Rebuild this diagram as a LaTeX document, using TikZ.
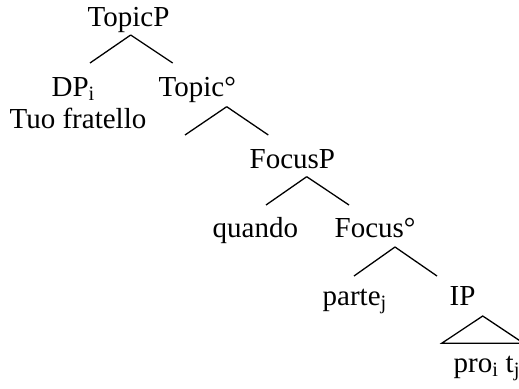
\documentclass[tikz,border=0pt]{standalone}
\usepackage{fontspec}
\setmainfont{Liberation Serif}

\begin{document}
\begin{tikzpicture}[x=1pt, y=-1pt, line width=1.3pt,
        every node/.style={inner sep=0pt, anchor=base west, font=\fontsize{29}{34}\selectfont}]
            \useasboundingbox (0,0) rectangle (519,388);

            \node[] (1) at (87,27) {TopicP};
            \node[] (2) at (51,96) {DP\textsubscript{i}};
            \node[] (3) at (9,128) {Tuo fratello};
            \node[] (4) at (158,96) {Topic°};
            \node[] (5) at (249,168) {FocusP};
            \node[] (6) at (212,237) {quando};
            \node[] (7) at (334,237) {Focus°};
            \node[] (8) at (322,305) {parte\textsubscript{j}};
            \node[] (9) at (449,305) {IP};
            \node[] (10) at (453,372) {pro\textsubscript{i} t\textsubscript{j}};

            \coordinate (w) at (130.7,35);
            \coordinate (w1) at (90,63);
            \coordinate (w2) at (172.7,63);

            \coordinate (x) at (226.7,106.7);
            \coordinate (x1) at (185,135);
            \coordinate (x2) at (268.3,135);

            \coordinate (y) at (306.7,176.7);
            \coordinate (y1) at (266,205);
            \coordinate (y2) at (349,205);

            \coordinate (z) at (395,247);
            \coordinate (z1) at (354,276);
            \coordinate (z2) at (437,276);

            \coordinate (t) at (482.7,316);
            \coordinate (t1) at (441.7,343.3);
            \coordinate (t2) at (523.7,343.3);

            \path
                (w) edge (w1)
                (w) edge (w2)

                (x) edge (x1)
                (x) edge (x2)

                (y) edge (y1)
                (y) edge (y2)

                (z) edge (z1)
                (z) edge (z2)
            ;
            \draw (t) -- (t1) -- (t2) -- cycle;
        \end{tikzpicture}
\end{document}
